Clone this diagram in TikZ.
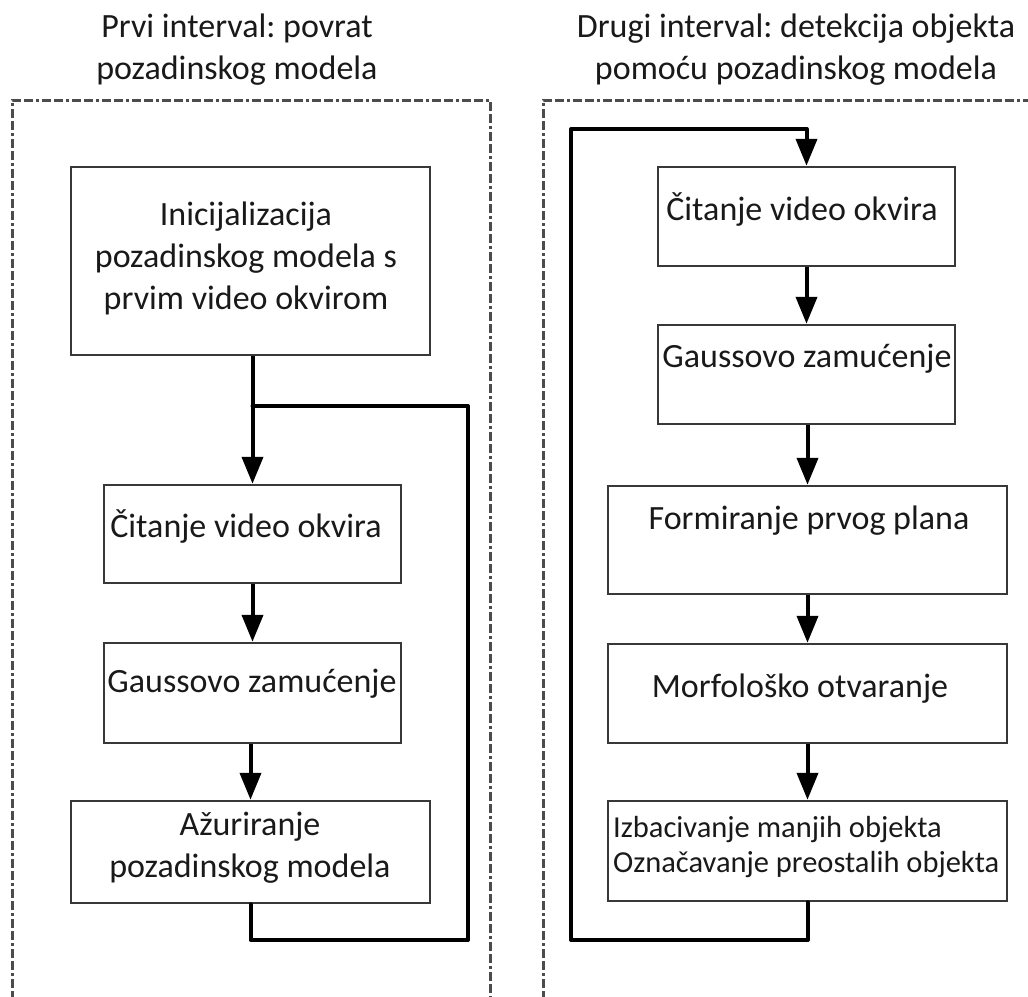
\documentclass[tikz,border=0pt]{standalone}
\usepackage{fontspec}
\setmainfont{Carlito}
\usetikzlibrary{arrows.meta}
\frenchspacing
\tikzset{
  box/.style={draw=black!78, line width=2.5pt, rectangle, inner sep=0pt},
  txt/.style={font=\fontsize{34}{42}\selectfont\frenchspacing, inner sep=0pt, align=center, text=black!90},
  smalltxt/.style={font=\fontsize{30.5}{35}\selectfont\frenchspacing, inner sep=0pt, align=left, text=black!90},
  flow/.style={line width=4pt, draw=black, -{Triangle[width=21pt,length=27pt]}},
  loopline/.style={line width=4pt, draw=black, line join=round, line cap=round},
  framebox/.style={draw=black!70, line width=3pt, dash pattern=on 9pt off 3pt on 9pt off 3pt on 3pt off 3pt},
}
\begin{document}
\begin{tikzpicture}[x=1pt,y=-1pt]
\useasboundingbox (0,0) rectangle (1028,996);
\begin{scope}
\clip (0,0) rectangle (1028,996);
\draw[framebox] (12,1000) -- (12,100) -- (490,100) -- (490,1000);
\draw[framebox] (543,1000) -- (543,100) -- (1040,100);
\end{scope}

% titles
\node[txt] (t1) at (237,50) {Prvi interval: povrat\\pozadinskog modela};
\node[txt] (t2) at (796,50) {Drugi interval: detekcija objekta\\pomoću pozadinskog modela};

% left column boxes
\node[box, minimum width=359pt, minimum height=188pt] (b1) at (250.5,261) {};
\node[box, minimum width=297pt, minimum height=98pt] (b2) at (252.5,534) {};
\node[box, minimum width=297pt, minimum height=100pt] (b3) at (252.5,693) {};
\node[box, minimum width=359pt, minimum height=102pt] (b4) at (250.5,852) {};

\node[txt] (b1t) at (246,258) {Inicijalizacija\\pozadinskog modela s\\prvim video okvirom};
\node[txt, anchor=mid] (b2t) at (246,535) {Čitanje video okvira};
\node[txt, anchor=mid] (b3t) at (252,690) {Gaussovo zamućenje};
\node[txt] (b4t) at (250,848) {Ažuriranje\\pozadinskog modela};

% right column boxes
\node[box, minimum width=297pt, minimum height=99pt] (A) at (806.5,216.5) {};
\node[box, minimum width=297pt, minimum height=99pt] (B) at (806.5,374.5) {};
\node[box, minimum width=399pt, minimum height=108pt] (C) at (807.5,540) {};
\node[box, minimum width=399pt, minimum height=99pt] (D) at (807.5,693.5) {};
\node[box, minimum width=399pt, minimum height=100pt] (E) at (807.5,851) {};

\node[txt, anchor=mid] (At) at (802,218) {Čitanje video okvira};
\node[txt, anchor=mid] (Bt) at (807,365) {Gaussovo zamućenje};
\node[txt, anchor=mid] (Ct) at (809,527) {Formiranje prvog plana};
\node[txt, anchor=mid] (Dt) at (800,695) {Morfološko otvaranje};
\node[smalltxt, anchor=west] (Et) at (613,847) {Izbacivanje manjih objekta\\Označavanje preostalih objekta};

% left flow
\draw[flow] (b1.south -| b2) -- (b2.north);
\draw[flow] (b2.south) -- (b3.north);
\draw[flow] (b3.south -| b4.north) -- (b4.north);
\coordinate (jL) at (b2.north |- 0,406);
\coordinate (cL) at (468,940);
\draw[loopline] (b4.south) |- (cL) |- (jL);

% right flow
\draw[flow] (A.south) -- (B.north);
\draw[flow] (B.south -| C.north) -- (C.north);
\draw[flow] (C.south) -- (D.north);
\draw[flow] (D.south) -- (E.north);
\coordinate (cR) at (571,940);
\coordinate (tR) at (A.north |- 0,129);
\draw[loopline, -{Triangle[width=21pt,length=27pt]}] (E.south) |- (cR) |- (tR) -- (A.north);
\end{tikzpicture}
\end{document}
